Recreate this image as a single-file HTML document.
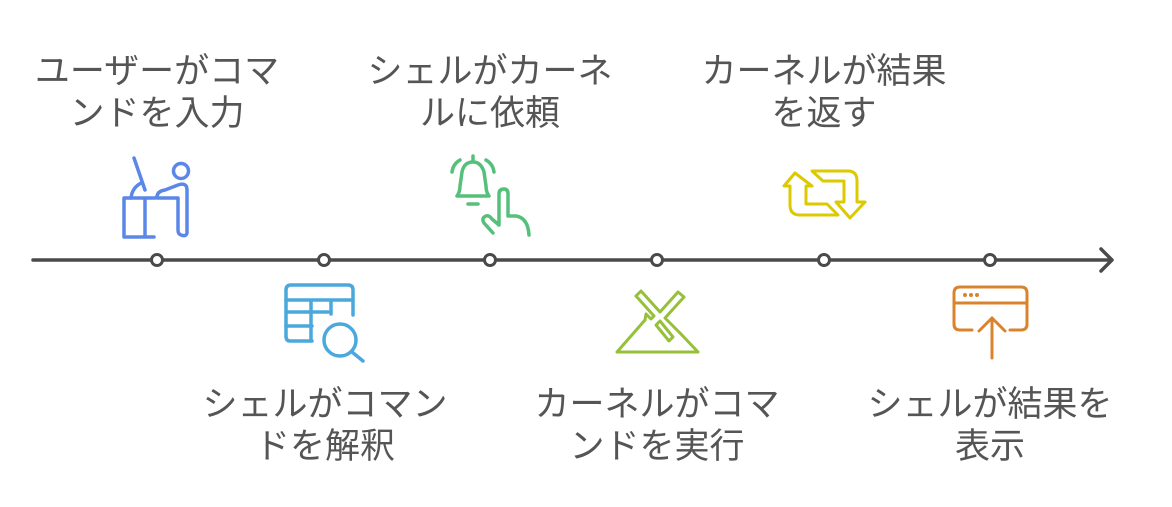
<!DOCTYPE html>
<html><head><meta charset="utf-8"><style>
html,body{margin:0;padding:0;background:#fff;}
body{width:1172px;height:507px;position:relative;overflow:hidden;font-family:"Liberation Sans","Noto Sans CJK JP",sans-serif;}
.t{position:absolute;width:320px;text-align:center;color:#555;font-size:35px;line-height:42px;white-space:nowrap;}
svg{position:absolute;left:0;top:0;}
</style></head><body>
<svg width="1172" height="507" viewBox="0 0 1172 507" fill="none" stroke-linecap="round" stroke-linejoin="round">
  <line x1="33" y1="260" x2="1110" y2="260" stroke="#4a4a4a" stroke-width="3.5"/>
  <polyline points="1101,249 1112,260 1101,271" stroke="#4a4a4a" stroke-width="3.5"/>
  <g fill="#fff" stroke="#4a4a4a" stroke-width="3">
    <circle cx="157" cy="260" r="5.5"/><circle cx="324" cy="260" r="5.5"/><circle cx="490" cy="260" r="5.5"/>
    <circle cx="657" cy="260" r="5.5"/><circle cx="824" cy="260" r="5.5"/><circle cx="990" cy="260" r="5.5"/>
  </g>
  <g stroke="#5b87e8" stroke-width="3.5">
    <line x1="134" y1="158" x2="145" y2="190"/>
    <path d="M141,183 Q132,188 131,198"/>
    <circle cx="181" cy="171" r="7.5"/>
    <path d="M124,198 H155 M124,198 V237 H154 M145,198 V237"/>
    <path d="M157,196 Q158,191 165,190 L178,185 Q187,182 187,190 V233 Q186,237 181,235 Q178,234 178,230 V198 H157"/>
  </g>
  <g stroke="#4aa8dc" stroke-width="3.5">
    <path d="M312,341 H290 Q286,341 286,336 V290 Q286,285 291,285 H348 Q353,285 353,290 V315"/>
    <path d="M286,300 H353 M286,312 H328 M286,326 H312 M311,300 V341 M331,300 V314"/>
    <circle cx="340" cy="340" r="16"/>
    <line x1="352" y1="352" x2="363" y2="361"/>
  </g>
  <g stroke="#55c07a" stroke-width="3.5">
    <path d="M457,196 H489 Q486,192 486,186 L484,172 Q481,162 473,162 Q464,162 462,172 L460,186 Q460,192 457,196 Z"/>
    <line x1="473" y1="156" x2="473" y2="161"/>
    <line x1="468" y1="204" x2="478" y2="204"/>
    <path d="M460,160 Q453,164 452,172"/><path d="M486,160 Q493,164 494,172"/>
    <path d="M493,233 L484,223 Q481,218 486,216 Q489,215 492,219 L499,225 V194 Q499,189 504,189 Q508,189 508,194 V216 H516 Q528,218 529,235"/>
  </g>
  <g stroke="#96c03a" stroke-width="3">
    <path d="M617,352 L645,320 M698,352 L680,333 M617,352 H698"/>
    <path d="M636,296 L641,291 L660,312 L678,292 L684,297 L665,318 L680,333"/>
    <path d="M636,296 L654,316 L651,319 L646,314 L645,320"/>
    <path d="M656,325 L660,321 L673,337 L669,341 Z"/>
  </g>
  <g stroke="#ddc900" stroke-width="3">
    <path d="M795,173 L784,186 H790 V205 Q790,215 800,215 H838 L827,204 H806 V186 H812 Z"/>
    <path d="M812,171 L823,181 H844 V202 H836 L850,218 L865,202 H857 V181 Q857,171 848,171 Z"/>
  </g>
  <g stroke="#d9842c" stroke-width="3">
    <path d="M972,330 H960 Q954,330 954,324 V293 Q954,287 960,287 H1021 Q1027,287 1027,293 V324 Q1027,330 1021,330 H1010"/>
    <line x1="955" y1="303" x2="1026" y2="303"/>
    <line x1="992" y1="358" x2="992" y2="318"/>
    <polyline points="979,331 992,318 1005,331"/>
  </g>
  <g fill="#d9842c"><circle cx="965" cy="295" r="2"/><circle cx="971" cy="295" r="2"/><circle cx="977" cy="295" r="2"/></g>
</svg>
<div class="t" style="left:-3px;top:51px">ユーザーがコマ<br>ンドを入力</div>
<div class="t" style="left:330px;top:51px">シェルがカーネ<br>ルに依頼</div>
<div class="t" style="left:664px;top:51px">カーネルが結果<br>を返す</div>
<div class="t" style="left:165px;top:384px">シェルがコマン<br>ドを解釈</div>
<div class="t" style="left:497px;top:384px">カーネルがコマ<br>ンドを実行</div>
<div class="t" style="left:830px;top:384px">シェルが結果を<br>表示</div>
</body></html>
